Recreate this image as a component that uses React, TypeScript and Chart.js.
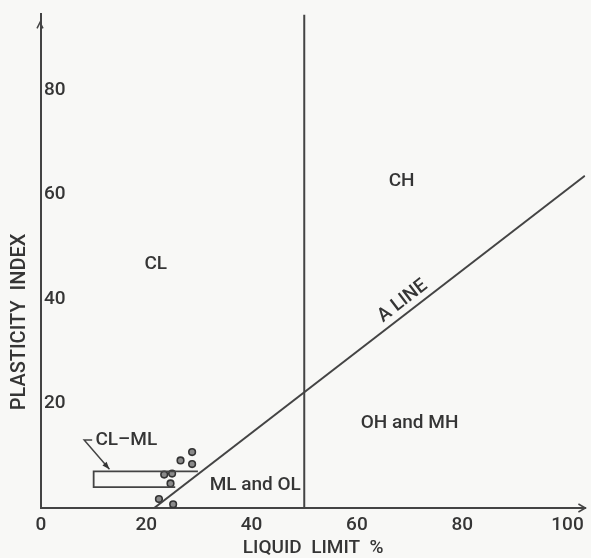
import { useEffect, useRef } from "react";
import { Chart, registerables } from "chart.js";

Chart.register(...registerables);

// Axis ticks
const X_TICKS = [0, 20, 40, 60, 80, 100];
const Y_TICKS = [20, 40, 60, 80];

// A line (liquid limit, plasticity index)
const A_LINE_LL = [21.5, 103.3];
const A_LINE_PI = [0, 63.6];

// Vertical line at LL = 50
const LL50_LL = [50, 50];
const LL50_PI = [0, 94.5];

// CL-ML zone outline
const CLML_LL = [29.8, 10, 10, 25.5];
const CLML_PI = [7, 7, 4, 4];

// Test samples
const SAMPLE_LL = [28.7, 26.5, 28.7, 23.4, 24.9, 24.6, 22.4, 25.1];
const SAMPLE_PI = [10.7, 9.1, 8.4, 6.4, 6.6, 4.7, 1.7, 0.7];

// Zone labels
const ZONE_TEXT = ["CL", "CH", "ML and OL", "OH and MH", "CL\u2013ML"];
const ZONE_LL = [21.8, 68.5, 40.7, 70, 16.2];
const ZONE_PI = [46.7, 62.5, 4.4, 16.2, 13];

const INK = "#353535";
const LINE = "#444444";
const FONT = "Roboto, 'DejaVu Sans', sans-serif";

const pts = (xs: number[], ys: number[]) => xs.map((x, i) => ({ x, y: ys[i] }));

const annotations = {
  id: "annotations",
  afterDatasetsDraw(chart: any) {
    const { ctx, scales, chartArea } = chart;
    const xs = scales.x;
    const ys = scales.y;
    ctx.save();
    ctx.fillStyle = INK;
    ctx.strokeStyle = LINE;
    ctx.textAlign = "center";
    ctx.textBaseline = "middle";
    ctx.font = `500 19px ${FONT}`;
    ZONE_TEXT.forEach((t, i) => {
      ctx.fillText(t, xs.getPixelForValue(ZONE_LL[i]), ys.getPixelForValue(ZONE_PI[i]));
    });

    // leader from CL-ML label to the zone
    ctx.lineWidth = 1.5;
    const lx0 = xs.getPixelForValue(8.2);
    const ly0 = ys.getPixelForValue(13);
    const lx1 = xs.getPixelForValue(13);
    const ly1 = ys.getPixelForValue(7.4);
    ctx.beginPath();
    ctx.moveTo(lx0 + 8, ly0);
    ctx.lineTo(lx0, ly0);
    ctx.lineTo(lx1, ly1);
    ctx.stroke();
    const ang = Math.atan2(ly1 - ly0, lx1 - lx0);
    ctx.beginPath();
    ctx.moveTo(lx1, ly1);
    ctx.lineTo(lx1 - 8 * Math.cos(ang - 0.35), ly1 - 8 * Math.sin(ang - 0.35));
    ctx.lineTo(lx1 - 8 * Math.cos(ang + 0.35), ly1 - 8 * Math.sin(ang + 0.35));
    ctx.closePath();
    ctx.fill();

    // A LINE text along the line
    const ax0 = xs.getPixelForValue(A_LINE_LL[0]);
    const ay0 = ys.getPixelForValue(A_LINE_PI[0]);
    const ax1 = xs.getPixelForValue(A_LINE_LL[1]);
    const ay1 = ys.getPixelForValue(A_LINE_PI[1]);
    const lineAng = Math.atan2(ay1 - ay0, ax1 - ax0);
    const tx = xs.getPixelForValue(68.7);
    const ty = ys.getPixelForValue(39.6);
    ctx.save();
    ctx.translate(tx, ty);
    ctx.rotate(lineAng);
    ctx.fillText("A LINE", 0, 0);
    ctx.restore();

    // axis arrows
    ctx.lineWidth = 1.5;
    const right = chartArea.right;
    const bottom = chartArea.bottom;
    ctx.beginPath();
    ctx.moveTo(right - 7, bottom - 4);
    ctx.lineTo(right, bottom);
    ctx.lineTo(right - 7, bottom + 4);
    ctx.stroke();
    const left = chartArea.left - 1;
    const top = chartArea.top + 8;
    ctx.beginPath();
    ctx.moveTo(left - 3, top + 6);
    ctx.lineTo(left, top);
    ctx.lineTo(left + 3, top + 6);
    ctx.stroke();

    // axis titles
    ctx.font = `500 19px ${FONT}`;
    ctx.fillText("LIQUID  LIMIT  %", (chartArea.left + chartArea.right) / 2, 548);
    ctx.save();
    ctx.translate(20, 322);
    ctx.rotate(-Math.PI / 2);
    ctx.font = `500 20px ${FONT}`;
    ctx.fillText("PLASTICITY  INDEX", 0, 0);
    ctx.restore();
    ctx.restore();
  },
};

export default function App() {
  const ref = useRef<HTMLCanvasElement | null>(null);
  useEffect(() => {
    if (!ref.current) return;
    const chart = new Chart(ref.current, {
      type: "scatter",
      data: {
        datasets: [
          {
            data: pts(A_LINE_LL, A_LINE_PI),
            showLine: true,
            borderColor: LINE,
            borderWidth: 2,
            pointRadius: 0,
          },
          {
            data: pts(LL50_LL, LL50_PI),
            showLine: true,
            borderColor: LINE,
            borderWidth: 2,
            pointRadius: 0,
          },
          {
            data: pts(CLML_LL, CLML_PI),
            showLine: true,
            borderColor: LINE,
            borderWidth: 1.8,
            pointRadius: 0,
          },
          {
            data: pts(SAMPLE_LL, SAMPLE_PI),
            showLine: false,
            pointRadius: 3.3,
            pointBackgroundColor: "#8a8a8a",
            pointBorderColor: "#333",
            pointBorderWidth: 1.6,
          },
        ],
      },
      options: {
        animation: false,
        responsive: false,
        maintainAspectRatio: false,
        layout: { padding: { top: 12, right: 1, left: 0, bottom: 0 } },
        plugins: { legend: { display: false }, tooltip: { enabled: false } },
        scales: {
          x: {
            type: "linear",
            min: 0,
            max: 103.4,
            afterFit: (s: any) => {
              s.height = 50;
            },
            afterBuildTicks: (s: any) => {
              s.ticks = X_TICKS.map((v) => ({ value: v }));
            },
            grid: { display: false, drawTicks: false },
            border: { display: true, color: LINE, width: 2 },
            ticks: {
              color: INK,
              font: { family: FONT, size: 19, weight: "500" },
              padding: 6,
              maxRotation: 0,
              autoSkip: false,
            },
          },
          y: {
            type: "linear",
            min: 0,
            max: 94.5,
            afterFit: (s: any) => {
              s.width = 41;
            },
            afterBuildTicks: (s: any) => {
              s.ticks = Y_TICKS.map((v) => ({ value: v }));
            },
            grid: { display: false, drawTicks: false },
            border: { display: true, color: LINE, width: 2 },
            ticks: {
              color: INK,
              font: { family: FONT, size: 19, weight: "500" },
              mirror: true,
              padding: 3,
              autoSkip: false,
            },
          },
        },
      },
      plugins: [annotations],
    });
    return () => chart.destroy();
  }, []);
  return (
    <div
      style={{
        position: "fixed",
        left: 0,
        top: 0,
        width: 591,
        height: 558,
        background: "#f8f8f6",
      }}
    >
      <canvas ref={ref} width={591} height={558} style={{ display: "block" }} />
    </div>
  );
}
